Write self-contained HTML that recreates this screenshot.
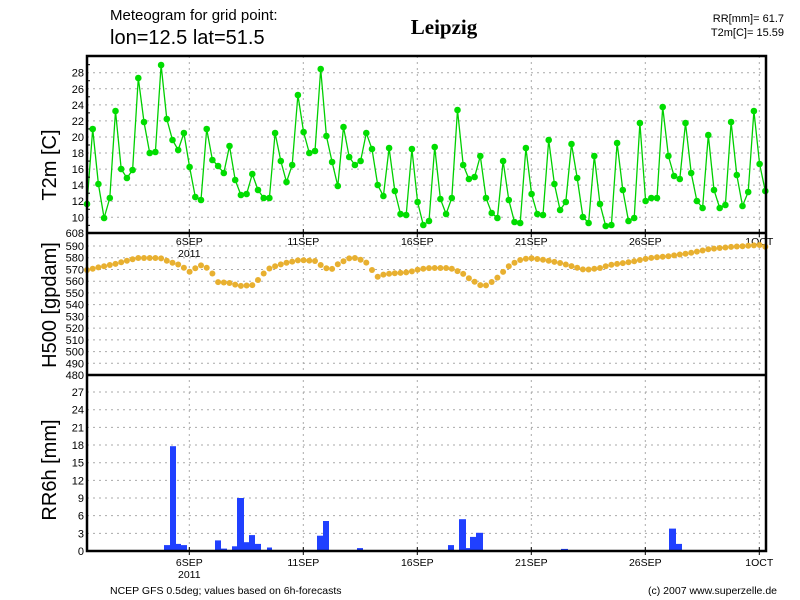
<!DOCTYPE html>
<html><head><meta charset="utf-8"><style>
html,body{margin:0;padding:0;background:#fff;}
svg{display:block;font-family:"Liberation Sans",sans-serif;}
</style></head><body>
<svg id="s" width="800" height="600" xmlns="http://www.w3.org/2000/svg">
<rect width="800" height="600" fill="#fff"/>
<text x="110" y="20" font-size="15">Meteogram for grid point:</text>
<text x="110" y="44" font-size="20">lon=12.5 lat=51.5</text>
<text x="444" y="34" font-size="21" font-weight="bold" font-family="Liberation Serif,serif" text-anchor="middle">Leipzig</text>
<text x="784" y="22" font-size="11" text-anchor="end">RR[mm]= 61.7</text>
<text x="784" y="36" font-size="11" text-anchor="end">T2m[C]= 15.59</text>
<text transform="translate(56,165) rotate(-90)" font-size="20" text-anchor="middle">T2m [C]</text>
<text transform="translate(56,305) rotate(-90)" font-size="20" text-anchor="middle">H500 [gpdam]</text>
<text transform="translate(56,470) rotate(-90)" font-size="20" text-anchor="middle">RR6h [mm]</text>
<text x="110" y="594" font-size="10.5">NCEP GFS 0.5deg; values based on 6h-forecasts</text>
<text x="777" y="594" font-size="10.5" text-anchor="end">(c) 2007 www.superzelle.de</text>
<g id="g"></g>
</svg>
<script>
var g=document.getElementById('g'),h='';
var L=87,R=766;
function ln(x1,y1,x2,y2,st){h+='<line x1="'+x1+'" y1="'+y1+'" x2="'+x2+'" y2="'+y2+'" '+st+'/>';}
var dash='stroke="#aaa" stroke-width="1" stroke-dasharray="2,4"';
function tx(x,y,t,a,fs){h+='<text x="'+x+'" y="'+y+'" font-size="'+(fs||11)+'" text-anchor="'+(a||'end')+'">'+t+'</text>';}
// x gridlines & labels
var days=['6SEP','11SEP','16SEP','21SEP','26SEP','1OCT'];
for(var k=0;k<6;k++){var x=189.3+114*k;ln(x,56,x,551,dash);
 tx(x,245,days[k],'middle',10.5);tx(x,566,days[k],'middle',10.5);
 ln(x,229,x,237,'stroke="#000"');ln(x,547,x,555,'stroke="#000"');}
tx(189.3,257,'2011','middle',10.5);tx(189.3,578,'2011','middle',10.5);
// top panel
function yT(v){return 217.3-(v-10)*8.033;}
for(var v=10;v<=28;v+=2){var y=yT(v);ln(L,y,R,y,dash);tx(84,y+4,v);}
function yH(v){return 246-(v-590)*1.173;}
for(var v=490;v<=590;v+=10){var y=yH(v);ln(L,y,R,y,dash);tx(84,y+4,v);}
tx(84,237,'608');tx(84,379,'480');
function yR(v){return 551-v*5.887;}
for(var v=3;v<=27;v+=3){var y=yR(v);ln(L,y,R,y,dash);tx(84,y+4,v);}
tx(84,555,'0');
// T2m
var T=[204,129,184,218,198,111,169,178,170,78,122,153,152,65,119,140,150,133,167,197,200,129,160,166,173,146,180,195,194,174,190,
198,198,133,161,182,165,95,132,153,151,69,136,162,186,127,157,165,161,133,149,185,196,148,191,214,215,149,202,225,221,147,199,214,198,110,165,179,177,156,198,213,218,161,200,
222,223,148,194,214,215,140,184,210,202,144,178,217,223,156,204,226,225,143,190,221,218,123,201,198,198,107,156,176,179,123,173,201,208,135,190,208,205,122,175,206,192,111,164,191];
var p='';for(var i=0;i<T.length;i++){p+=(87+i*5.7).toFixed(1)+','+T[i]+' ';}
h+='<polyline points="'+p+'" fill="none" stroke="#00d000" stroke-width="1.3"/>';
for(var i=0;i<T.length;i++)h+='<circle cx="'+(87+i*5.7).toFixed(1)+'" cy="'+T[i]+'" r="3.3" fill="#00dd00"/>';
// H500
var A=[[87,270],[100,267],[115,264],[137,258],[160,258],[170,262],[180,265],[190,272],[200,265],[210,269],[217,282],[230,283],[240,286],[253,285],[258,280],[262,275],[270,268],[285,263],[300,260],[315,261],[325,268],[333,269],[338,264],[350,258],[357,258],[367,263],[372,270],[377,277],[385,274],[400,273],[410,272],[420,269],[430,268],[450,268],[462,273],[470,279],[480,285],[485,286],[495,280],[502,273],[510,265],[520,260],[530,258],[545,260],[560,263],[575,267],[585,270],[600,268],[610,265],[630,262],[650,258],[670,256],[690,253],[710,249],[730,247],[760,245],[766,247]];
function ih(x){for(var j=0;j<A.length-1;j++){if(x<=A[j+1][0]){var t=(x-A[j][0])/(A[j+1][0]-A[j][0]);return A[j][1]+t*(A[j+1][1]-A[j][1]);}}return A[A.length-1][1];}
for(var i=0;i<120;i++){var x=87+i*5.7;h+='<circle cx="'+x.toFixed(1)+'" cy="'+ih(x).toFixed(1)+'" r="3" fill="#e8b030"/>';}
// bars
var B=[[164,170,1.0],[170,176,17.8],[176,181,1.2],[181,187,1.0],[215,221,1.8],[221,227,0.4],[232,237,0.8],[237,244,9.0],[244,249,1.5],[249,255,2.7],[255,261,1.2],[267,272,0.6],[272,278,0.1],[289,295,0.1],[317,323,2.6],[323,329,5.1],[329,335,0.1],[351,357,0.1],[357,363,0.5],[402,415,0.15],[442,448,0.1],[448,454,1.0],[459,466,5.4],[466,470,0.5],[470,476,2.4],[476,483,3.1],[561,568,0.35],[669,676,3.8],[676,682,1.2]];
for(var i=0;i<B.length;i++){var b=B[i];var y=yR(b[2]);h+='<rect x="'+b[0]+'" y="'+y.toFixed(1)+'" width="'+(b[1]-b[0])+'" height="'+(551-y).toFixed(1)+'" fill="#2040ff"/>';}
// frames
h+='<rect x="87" y="56" width="679" height="495" fill="none" stroke="#000" stroke-width="2.5"/>';
ln(87,233,766,233,'stroke="#000" stroke-width="2.5"');
ln(87,375,766,375,'stroke="#000" stroke-width="2.5"');
for(var i=0;i<=27;i++){var x=87+i*22.8*0.25*4+0;}
for(var v=9;v<=29;v+=2){ln(87,yT(v),90,yT(v),'stroke="#000"');}
g.innerHTML=h;
</script>
</body></html>
